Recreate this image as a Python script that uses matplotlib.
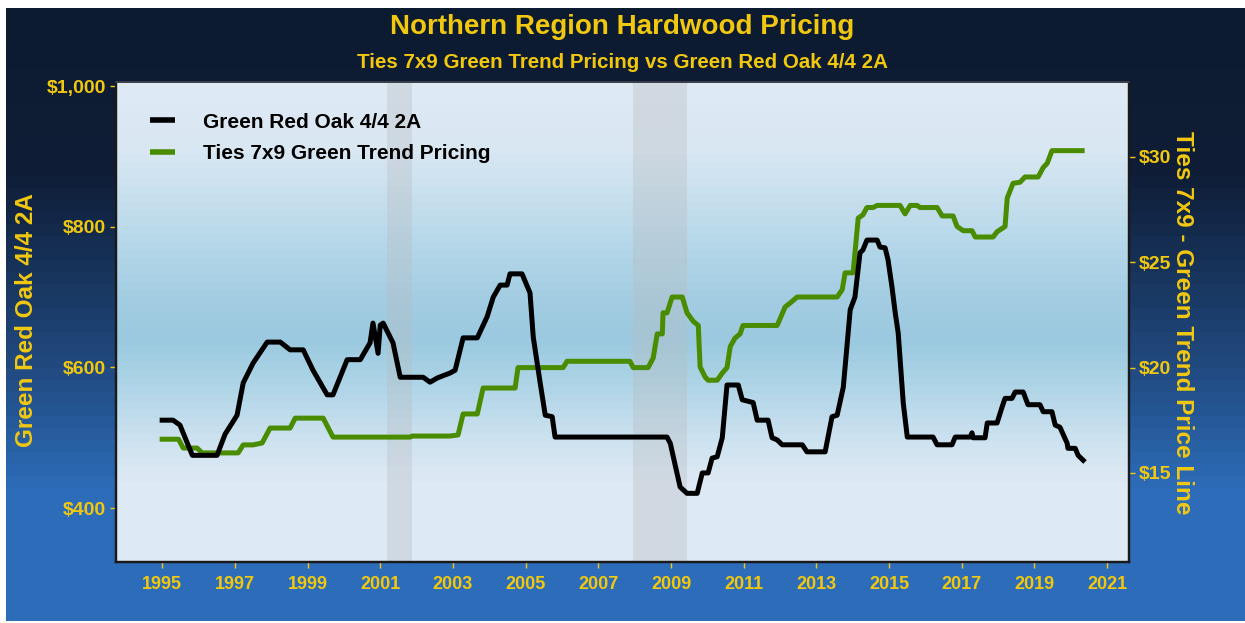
import matplotlib
matplotlib.use('Agg')
import matplotlib.pyplot as plt
import numpy as np
from matplotlib.colors import to_rgb
from matplotlib.lines import Line2D
from matplotlib.ticker import FuncFormatter

plt.rcParams['font.family'] = ['Liberation Sans', 'DejaVu Sans']
plt.rcParams['font.weight'] = 'bold'

# ---------------- data ----------------
oak_years = [1995.00, 1995.30, 1995.49, 1995.83, 1996.51, 1996.73, 1997.06, 1997.23, 1997.50,
             1997.89, 1998.25, 1998.52, 1998.88, 1999.15, 1999.54, 1999.70, 2000.09, 2000.45,
             2000.72, 2000.80, 2000.94, 2001.00, 2001.08, 2001.35, 2001.55, 2002.18, 2002.37,
             2002.57, 2002.92, 2003.06, 2003.28, 2003.67, 2003.94, 2004.11, 2004.30, 2004.49,
             2004.57, 2004.90, 2005.12, 2005.21, 2005.40, 2005.54, 2005.73, 2005.81, 2008.89,
             2008.98, 2009.25, 2009.44, 2009.72, 2009.86, 2010.02, 2010.13, 2010.27, 2010.41,
             2010.54, 2010.85, 2010.96, 2011.26, 2011.37, 2011.67, 2011.78, 2011.92, 2012.06,
             2012.61, 2012.74, 2013.24, 2013.43, 2013.57, 2013.74, 2013.93, 2014.06, 2014.20,
             2014.28, 2014.39, 2014.67, 2014.75, 2014.89, 2014.97, 2015.08, 2015.17, 2015.25,
             2015.39, 2015.50, 2016.21, 2016.32, 2016.73, 2016.82, 2017.23, 2017.28, 2017.31,
             2017.64, 2017.70, 2017.97, 2018.11, 2018.19, 2018.38, 2018.47, 2018.69, 2018.82,
             2019.15, 2019.24, 2019.48, 2019.57, 2019.70, 2019.90, 2019.92, 2020.12, 2020.20,
             2020.34]
oak_values = [525, 525, 518, 475, 475, 505, 532, 578, 606,
              636, 636, 625, 625, 596, 561, 561, 611, 611,
              635, 663, 620, 660, 663, 635, 586, 586, 579,
              585, 592, 596, 642, 642, 672, 700, 717, 717,
              733, 733, 706, 643, 578, 532, 530, 501, 501,
              492, 430, 421, 421, 450, 450, 471, 473, 500,
              575, 575, 554, 550, 525, 525, 500, 497, 490,
              490, 480, 480, 530, 532, 572, 682, 700, 763,
              767, 781, 781, 771, 770, 753, 714, 677, 649,
              549, 501, 501, 490, 490, 501, 501, 507, 500,
              500, 521, 521, 544, 556, 556, 565, 565, 547,
              547, 537, 537, 518, 515, 492, 485, 485, 475,
              468]

ties_years = [1995.00, 1995.45, 1995.58, 1995.96, 1996.10, 1997.09, 1997.23, 1997.50, 1997.75,
              1997.97, 1998.52, 1998.66, 1999.43, 1999.70, 2001.82, 2001.88, 2002.92, 2003.14,
              2003.28, 2003.67, 2003.83, 2004.71, 2004.79, 2006.03, 2006.14, 2007.87, 2007.96,
              2008.37, 2008.51, 2008.62, 2008.76, 2008.78, 2008.89, 2009.03, 2009.31, 2009.44,
              2009.61, 2009.75, 2009.80, 2009.94, 2010.02, 2010.27, 2010.41, 2010.54, 2010.63,
              2010.76, 2010.90, 2010.98, 2011.92, 2012.14, 2012.28, 2012.47, 2013.57, 2013.71,
              2013.79, 2014.01, 2014.15, 2014.28, 2014.39, 2014.56, 2014.67, 2015.30, 2015.44,
              2015.58, 2015.77, 2015.85, 2016.32, 2016.46, 2016.76, 2016.87, 2017.04, 2017.28,
              2017.37, 2017.86, 2017.97, 2018.19, 2018.25, 2018.41, 2018.60, 2018.74, 2019.10,
              2019.24, 2019.35, 2019.48, 2020.31]
ties_values = [16.6, 16.6, 16.18, 16.18, 15.95, 15.95, 16.33, 16.33, 16.42,
               17.13, 17.13, 17.6, 17.6, 16.7, 16.7, 16.75, 16.75, 16.8,
               17.8, 17.8, 19.03, 19.03, 20.0, 20.0, 20.3, 20.3, 20.0,
               20.0, 20.46, 21.6, 21.6, 22.6, 22.6, 23.35, 23.35, 22.6,
               22.2, 22.0, 20.03, 19.55, 19.4, 19.4, 19.74, 20.0, 21.0,
               21.4, 21.6, 22.0, 22.0, 22.88, 23.07, 23.35, 23.35, 23.7,
               24.5, 24.5, 27.1, 27.25, 27.6, 27.6, 27.7, 27.7, 27.3,
               27.7, 27.7, 27.6, 27.6, 27.2, 27.2, 26.7, 26.5, 26.5,
               26.2, 26.2, 26.45, 26.7, 28.05, 28.75, 28.8, 29.05, 29.05,
               29.5, 29.7, 30.3, 30.3]

recessions = [(2001.19, 2001.88), (2007.96, 2009.44)]

x_ticks = list(range(1995, 2022, 2))
left_ticks = [400, 600, 800, 1000]
right_ticks = [15, 20, 25, 30]

title = "Northern Region Hardwood Pricing"
subtitle = "Ties 7x9 Green Trend Pricing vs Green Red Oak 4/4 2A"
left_label = "Green Red Oak 4/4 2A"
right_label = "Ties 7x9 - Green Trend Price Line"
oak_name = "Green Red Oak 4/4 2A"
ties_name = "Ties 7x9 Green Trend Pricing"

# ---------------- style ----------------
GOLD = '#f2c80f'
OAK_C = '#000000'
TIES_C = '#4a8c00'
W, H = 1245, 623


def stepped_gradient(stops, n_px, band):
    ys = np.arange(n_px)
    ys_q = (ys // band) * band + band / 2.0
    pos = [s[0] for s in stops]
    cols = np.array([to_rgb(s[1]) for s in stops])
    img = np.zeros((n_px, 1, 3))
    for c in range(3):
        img[:, 0, c] = np.interp(ys_q, pos, cols[:, c])
    return img


fig = plt.figure(figsize=(W / 100, H / 100), dpi=100)
fig.patch.set_facecolor('white')

# figure background (pixel rows 8..621, cols 6..1245)
bg_top, bg_bot, bg_left = 8, 621, 6
bg = fig.add_axes([bg_left / W, 1 - bg_bot / H, 1 - bg_left / W, (bg_bot - bg_top) / H])
bg.set_axis_off()
bg_stops = [(0, '#0d1b31'), (165, '#0f1e36'), (260, '#17335a'), (360, '#214a80'),
            (445, '#2962a8'), (480, '#2d6cb9'), (613, '#2d6cb9')]
bg.imshow(stepped_gradient(bg_stops, bg_bot - bg_top, 12), aspect='auto',
          extent=[0, 1, 0, 1], interpolation='nearest')
bg.set_xlim(0, 1)
bg.set_ylim(0, 1)

# main axes
px_l, px_r, px_t, px_b = 116, 1129, 82, 562
ax = fig.add_axes([px_l / W, 1 - px_b / H, (px_r - px_l) / W, (px_b - px_t) / H])
ax.patch.set_visible(False)
panel_stops = [(0, '#dfeaf5'), (70, '#d9e7f3'), (140, '#bddbeb'), (215, '#a3cde2'),
               (258, '#9bc9df'), (300, '#acd3e6'), (360, '#cfe3f0'), (400, '#dde9f4'),
               (480, '#dde9f4')]
ax.imshow(stepped_gradient(panel_stops, px_b - px_t, 8), aspect='auto',
          extent=[0, 1, 0, 1], transform=ax.transAxes, interpolation='nearest', zorder=0)

for a, b in recessions:
    ax.axvspan(a, b, color='#b9bcc0', alpha=0.35, lw=0, zorder=1)

ax.plot(ties_years, ties_values, color=TIES_C, lw=3.6, solid_joinstyle='round', zorder=3)

ax2 = ax.twinx()
ax2.plot(oak_years, oak_values, color=OAK_C, lw=3.6, solid_joinstyle='round', zorder=3)

ax.set_xlim(1993.73, 2021.60)
ax.set_ylim(10.77, 33.56)
ax2.set_ylim(323.4, 1005.7)
ax2.set_xlim(1993.73, 2021.60)

money = FuncFormatter(lambda v, p: f"${v:,.0f}")
ax.set_xticks(x_ticks)
ax.set_yticks(right_ticks)
ax.yaxis.set_major_formatter(money)
ax.yaxis.tick_right()
ax.tick_params(axis='y', left=False, labelleft=False, right=True, labelright=True)

ax2.set_yticks(left_ticks)
ax2.yaxis.set_major_formatter(money)
ax2.yaxis.tick_left()
ax2.tick_params(axis='y', left=True, labelleft=True, right=False, labelright=False)

for a in (ax, ax2):
    a.tick_params(axis='both', colors=GOLD, length=4, width=1, pad=3)
    a.tick_params(axis='y', labelsize=14)
    a.tick_params(axis='x', labelsize=13, pad=6)
    for lab in a.get_xticklabels() + a.get_yticklabels():
        lab.set_fontweight('bold')
    for s in ('top',):
        a.spines[s].set_color('#3a3f48')
        a.spines[s].set_linewidth(1.2)
    for s in ('left', 'bottom', 'right'):
        a.spines[s].set_color('#1a1a1a')
        a.spines[s].set_linewidth(1.6)

# titles
fig.text(0.5, 1 - 27 / H, title, ha='center', va='center', color=GOLD,
         fontsize=20, fontweight='bold')
fig.text(0.5, 1 - 62 / H, subtitle, ha='center', va='center', color=GOLD,
         fontsize=14.8, fontweight='bold')
fig.text(27 / W, 1 - 320 / H, left_label, ha='center', va='center', color=GOLD,
         fontsize=17.5, fontweight='bold', rotation=90)
fig.text(1183 / W, 1 - 323 / H, right_label, ha='center', va='center', color=GOLD,
         fontsize=17.5, fontweight='bold', rotation=270)

# legend
handles = [Line2D([], [], color=OAK_C, lw=4, solid_capstyle='butt'),
           Line2D([], [], color=TIES_C, lw=4, solid_capstyle='butt')]
leg = ax2.legend(handles, [oak_name, ties_name], loc='upper left',
                 bbox_to_anchor=(0.015, 0.975), frameon=False, handlelength=1.2,
                 handletextpad=1.35, labelspacing=0.6,
                 prop={'family': 'Liberation Sans', 'weight': 'bold', 'size': 15})

fig.savefig('out.png', dpi=100, facecolor=fig.get_facecolor())
